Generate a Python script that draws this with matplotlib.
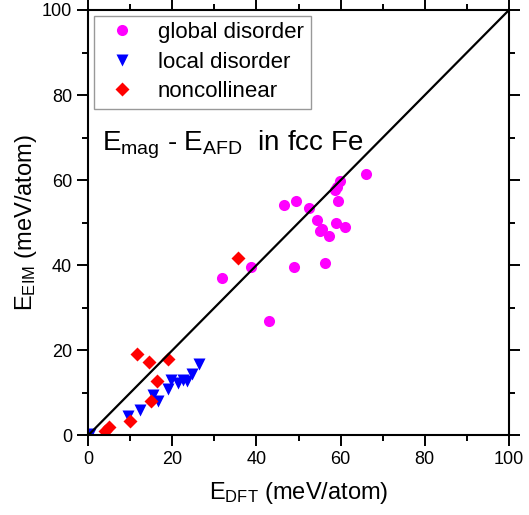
import matplotlib
matplotlib.use("Agg")
import matplotlib.pyplot as plt

plt.rcParams['font.family'] = ['Liberation Sans', 'DejaVu Sans']
plt.rcParams['mathtext.fontset'] = 'custom'
plt.rcParams['mathtext.rm'] = 'Liberation Sans'
plt.rcParams['mathtext.it'] = 'Liberation Sans'

# data (meV/atom)
global_x = [31.8, 38.6, 43.1, 46.6, 49.3, 49.0, 52.6, 54.3, 55.5, 55.0,
            57.3, 56.2, 59.0, 61.1, 59.3, 58.7, 59.1, 59.8, 66.0]
global_y = [37.1, 39.5, 26.9, 54.1, 55.1, 39.5, 53.5, 50.6, 48.5, 48.0,
            47.0, 40.5, 49.9, 49.0, 55.1, 57.7, 58.5, 59.8, 61.5]

local_x = [0.5, 9.6, 12.4, 15.5, 16.7, 18.9, 19.7, 21.3, 22.6, 23.6, 24.8, 26.4]
local_y = [0.3, 4.6, 5.9, 9.4, 8.2, 11.0, 13.1, 12.3, 13.1, 12.9, 14.5, 16.9]

noncol_x = [4.0, 5.0, 10.0, 15.0, 16.5, 11.7, 14.4, 18.9, 35.7]
noncol_y = [1.0, 1.9, 3.5, 8.0, 12.9, 19.1, 17.2, 17.9, 41.6]

fig = plt.figure(figsize=(5.29, 5.15), dpi=100)
ax = fig.add_axes([0.1664, 0.1544, 0.7958, 0.8262])

ax.plot(global_x, global_y, 'o', color='#FF00FF', ms=8, mec='none',
        label='global disorder')
ax.plot(local_x, local_y, 'v', color='#0000FF', ms=9, mec='none',
        label='local disorder')
ax.plot(noncol_x, noncol_y, 'D', color='#FF0000', ms=7.5, mec='none',
        label='noncollinear')

# y = x reference line
ax.plot([0, 100], [0, 100], color='black', lw=1.6, zorder=3)

ax.set_xlim(0, 100)
ax.set_ylim(0, 100)
ax.set_xticks(range(0, 101, 20))
ax.set_yticks(range(0, 101, 20))
ax.set_xticks(range(10, 100, 20), minor=True)
ax.set_yticks(range(10, 100, 20), minor=True)
ax.tick_params(which='both', direction='out', top=True, right=True,
               labeltop=False, labelright=False, width=1.4, labelsize=13)
ax.tick_params(which='major', length=8)
ax.tick_params(which='minor', length=4.5)
for s in ax.spines.values():
    s.set_linewidth(1.5)

ax.set_xlabel(r'E$_{\mathregular{DFT}}$ (meV/atom)', fontsize=17, labelpad=8)
ax.set_ylabel(r'E$_{\mathregular{EIM}}$ (meV/atom)', fontsize=17, labelpad=2)

ax.text(3.3, 66.9, r'E$_{\mathregular{mag}}$ - E$_{\mathregular{AFD}}$  in fcc Fe',
        fontsize=20, va='baseline', ha='left')

leg = ax.legend(loc='upper left', fontsize=16, frameon=True, fancybox=False,
                edgecolor='gray', borderaxespad=0.25, handletextpad=0.6,
                labelspacing=0.38, borderpad=0.3, handlelength=2.0)
leg.get_frame().set_linewidth(1.0)

fig.savefig('out.png', dpi=100)
